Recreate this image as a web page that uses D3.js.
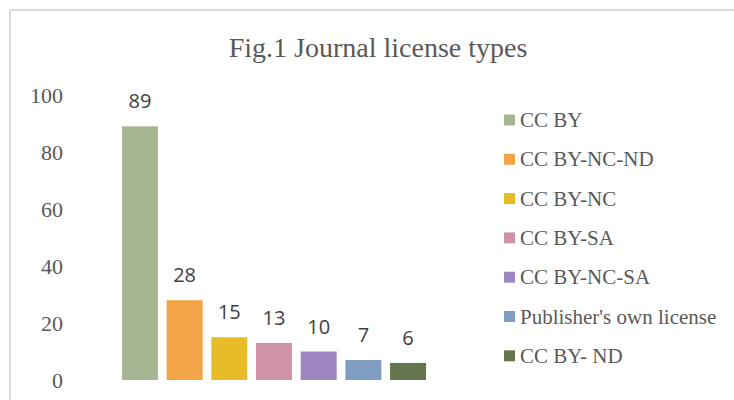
<!DOCTYPE html>
<html>
<head>
<meta charset="utf-8">
<script src="https://cdn.jsdelivr.net/npm/d3@7"></script>
<style>
  body { margin: 0; background: #fff; }
  svg { display: block; }
</style>
</head>
<body>
<div id="chart"></div>
<script>
// data
var licenses = ["CC BY", "CC BY-NC-ND", "CC BY-NC", "CC BY-SA", "CC BY-NC-SA", "Publisher's own license", "CC BY- ND"];
var counts = [89, 28, 15, 13, 10, 7, 6];
var colors = ["#a5b592", "#f3a447", "#e7bc29", "#d092a7", "#9c85c0", "#809ec2", "#66774f"];
var yTicks = [0, 20, 40, 60, 80, 100];

var width = 734, height = 400;

var svg = d3.select("#chart").append("svg")
    .attr("width", width)
    .attr("height", height);

// chart frame (cut off on the right and bottom)
svg.append("path")
    .attr("d", "M10,401 V10 H735")
    .attr("fill", "none")
    .attr("stroke", "#d9d9d9")
    .attr("stroke-width", 2);

// title
svg.append("text")
    .attr("x", 378)
    .attr("y", 57)
    .attr("text-anchor", "middle")
    .style("font-family", "'Liberation Serif', 'Times New Roman', serif")
    .style("font-size", "28px")
    .style("fill", "#595959")
    .text("Fig.1 Journal license types");

// scales
var x = d3.scaleBand()
    .domain(licenses)
    .range([117.5, 430.5])
    .paddingInner(0.195)
    .paddingOuter(0.1);

var y = d3.scaleLinear()
    .domain([0, 100])
    .range([380, 95]);

// y axis labels only (no line, no grid)
var yAxis = svg.append("g")
    .attr("transform", "translate(63,0)")
    .call(d3.axisLeft(y).tickValues(yTicks).tickSize(0).tickPadding(0));
yAxis.select(".domain").remove();
yAxis.selectAll("text")
    .style("font-family", "'Liberation Serif', 'Times New Roman', serif")
    .style("font-size", "22px")
    .style("fill", "#595959");

// bars
svg.append("g").selectAll("rect")
    .data(counts)
  .enter().append("rect")
    .attr("x", function(d, i) { return x(licenses[i]); })
    .attr("y", function(d) { return y(d); })
    .attr("width", x.bandwidth())
    .attr("height", function(d) { return y(0) - y(d); })
    .attr("fill", function(d, i) { return colors[i]; });

// value labels
svg.append("g").selectAll("text")
    .data(counts)
  .enter().append("text")
    .attr("x", function(d, i) { return x(licenses[i]) + x.bandwidth() / 2; })
    .attr("y", function(d) { return y(d) - 18; })
    .attr("text-anchor", "middle")
    .style("font-family", "'Open Sans', 'Noto Sans', sans-serif")
    .style("font-size", "20px")
    .style("fill", "#404040")
    .text(function(d) { return d; });

// legend
var legend = svg.append("g").selectAll("g")
    .data(licenses)
  .enter().append("g")
    .attr("transform", function(d, i) { return "translate(504," + (120 + i * 39.3) + ")"; });

legend.append("rect")
    .attr("x", 0)
    .attr("y", -5.5)
    .attr("width", 11)
    .attr("height", 11)
    .attr("fill", function(d, i) { return colors[i]; });

legend.append("text")
    .attr("x", 16)
    .attr("y", 7)
    .style("font-family", "'Liberation Serif', 'Times New Roman', serif")
    .style("font-size", "21px")
    .style("fill", "#595959")
    .text(function(d) { return d; });
</script>
</body>
</html>
